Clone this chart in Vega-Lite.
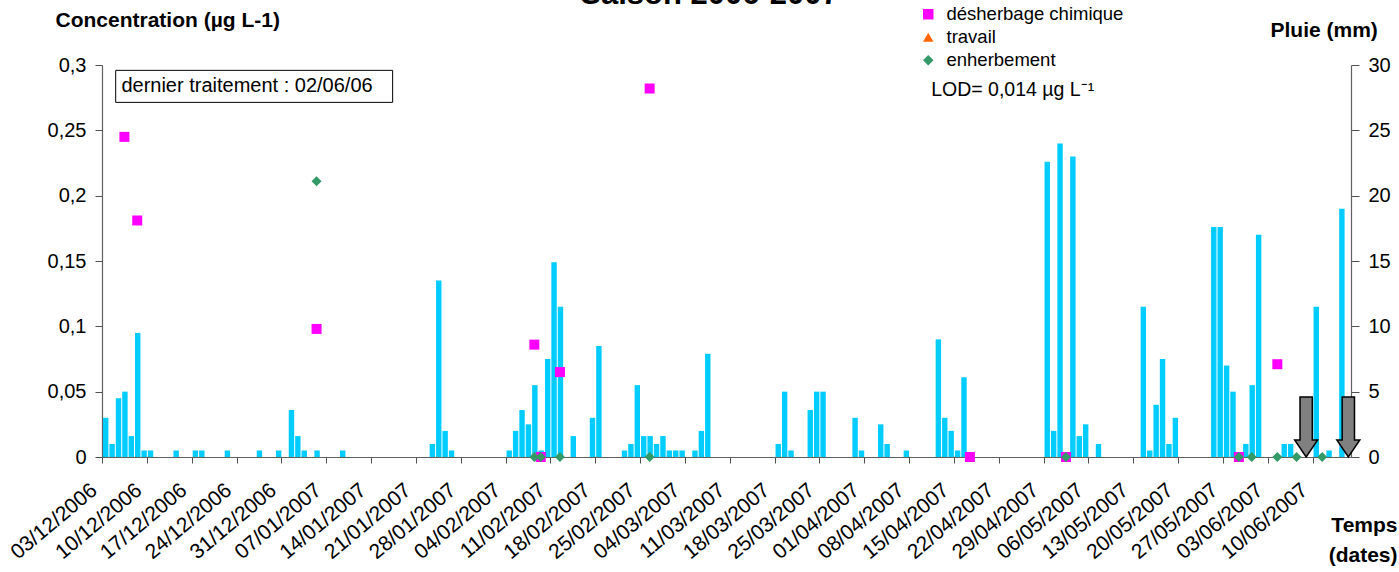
{
  "$schema": "https://vega.github.io/schema/vega-lite/v6.json",
  "width": 1249,
  "height": 392,
  "autosize": {"type": "none"},
  "padding": {"left": 102, "top": 65, "right": 48, "bottom": 115},
  "background": "white",
  "config": {
    "view": {"stroke": null},
    "font": "Liberation Sans",
    "axis": {"grid": false, "labelFont": "Liberation Sans", "titleFont": "Liberation Sans", "labelColor": "black", "titleColor": "black", "domainColor": "#606060", "tickColor": "#505050", "domainWidth": 1.2}
  },
  "title": {"text": "Saison 2006-2007", "font": "Liberation Sans", "fontSize": 31, "fontWeight": "bold", "color": "black", "anchor": "middle", "frame": "group", "baseline": "alphabetic", "offset": -30, "dx": -17},
  "datasets": {
    "pluie": [
      {"date": "2006-12-03", "pluie": 3.0}, {"date": "2006-12-04", "pluie": 1.0}, {"date": "2006-12-05", "pluie": 4.5},
      {"date": "2006-12-06", "pluie": 5.0}, {"date": "2006-12-07", "pluie": 1.6}, {"date": "2006-12-08", "pluie": 9.5},
      {"date": "2006-12-09", "pluie": 0.5}, {"date": "2006-12-10", "pluie": 0.5}, {"date": "2006-12-14", "pluie": 0.5},
      {"date": "2006-12-17", "pluie": 0.5}, {"date": "2006-12-18", "pluie": 0.5}, {"date": "2006-12-22", "pluie": 0.5},
      {"date": "2006-12-27", "pluie": 0.5}, {"date": "2006-12-30", "pluie": 0.5}, {"date": "2007-01-01", "pluie": 3.6},
      {"date": "2007-01-02", "pluie": 1.6}, {"date": "2007-01-03", "pluie": 0.5}, {"date": "2007-01-05", "pluie": 0.5},
      {"date": "2007-01-09", "pluie": 0.5}, {"date": "2007-01-23", "pluie": 1.0}, {"date": "2007-01-24", "pluie": 13.5},
      {"date": "2007-01-25", "pluie": 2.0}, {"date": "2007-01-26", "pluie": 0.5}, {"date": "2007-02-04", "pluie": 0.5},
      {"date": "2007-02-05", "pluie": 2.0}, {"date": "2007-02-06", "pluie": 3.6}, {"date": "2007-02-07", "pluie": 2.5},
      {"date": "2007-02-08", "pluie": 5.5}, {"date": "2007-02-09", "pluie": 0.5}, {"date": "2007-02-10", "pluie": 7.5},
      {"date": "2007-02-11", "pluie": 14.9}, {"date": "2007-02-12", "pluie": 11.5}, {"date": "2007-02-14", "pluie": 1.6},
      {"date": "2007-02-17", "pluie": 3.0}, {"date": "2007-02-18", "pluie": 8.5}, {"date": "2007-02-22", "pluie": 0.5},
      {"date": "2007-02-23", "pluie": 1.0}, {"date": "2007-02-24", "pluie": 5.5}, {"date": "2007-02-25", "pluie": 1.6},
      {"date": "2007-02-26", "pluie": 1.6}, {"date": "2007-02-27", "pluie": 1.0}, {"date": "2007-02-28", "pluie": 1.6},
      {"date": "2007-03-01", "pluie": 0.5}, {"date": "2007-03-02", "pluie": 0.5}, {"date": "2007-03-03", "pluie": 0.5},
      {"date": "2007-03-05", "pluie": 0.5}, {"date": "2007-03-06", "pluie": 2.0}, {"date": "2007-03-07", "pluie": 7.9},
      {"date": "2007-03-18", "pluie": 1.0}, {"date": "2007-03-19", "pluie": 5.0}, {"date": "2007-03-20", "pluie": 0.5},
      {"date": "2007-03-23", "pluie": 3.6}, {"date": "2007-03-24", "pluie": 5.0}, {"date": "2007-03-25", "pluie": 5.0},
      {"date": "2007-03-30", "pluie": 3.0}, {"date": "2007-03-31", "pluie": 0.5}, {"date": "2007-04-03", "pluie": 2.5},
      {"date": "2007-04-04", "pluie": 1.0}, {"date": "2007-04-07", "pluie": 0.5}, {"date": "2007-04-12", "pluie": 9.0},
      {"date": "2007-04-13", "pluie": 3.0}, {"date": "2007-04-14", "pluie": 2.0}, {"date": "2007-04-15", "pluie": 0.5},
      {"date": "2007-04-16", "pluie": 6.1}, {"date": "2007-04-29", "pluie": 22.6}, {"date": "2007-04-30", "pluie": 2.0},
      {"date": "2007-05-01", "pluie": 24.0}, {"date": "2007-05-03", "pluie": 23.0}, {"date": "2007-05-04", "pluie": 1.6},
      {"date": "2007-05-05", "pluie": 2.5}, {"date": "2007-05-07", "pluie": 1.0}, {"date": "2007-05-14", "pluie": 11.5},
      {"date": "2007-05-15", "pluie": 0.5}, {"date": "2007-05-16", "pluie": 4.0}, {"date": "2007-05-17", "pluie": 7.5},
      {"date": "2007-05-18", "pluie": 1.0}, {"date": "2007-05-19", "pluie": 3.0}, {"date": "2007-05-25", "pluie": 17.6},
      {"date": "2007-05-26", "pluie": 17.6}, {"date": "2007-05-27", "pluie": 7.0}, {"date": "2007-05-28", "pluie": 5.0},
      {"date": "2007-05-30", "pluie": 1.0}, {"date": "2007-05-31", "pluie": 5.5}, {"date": "2007-06-01", "pluie": 17.0},
      {"date": "2007-06-05", "pluie": 1.0}, {"date": "2007-06-06", "pluie": 1.0}, {"date": "2007-06-10", "pluie": 11.5},
      {"date": "2007-06-12", "pluie": 0.5}, {"date": "2007-06-14", "pluie": 19.0}
    ],
    "conc": [
      {"date": "2006-12-06", "conc": 0.245, "type": "désherbage chimique"},
      {"date": "2006-12-08", "conc": 0.181, "type": "désherbage chimique"},
      {"date": "2007-01-05", "conc": 0.098, "type": "désherbage chimique"},
      {"date": "2007-02-08", "conc": 0.086, "type": "désherbage chimique"},
      {"date": "2007-02-09", "conc": 0, "type": "désherbage chimique"},
      {"date": "2007-02-12", "conc": 0.065, "type": "désherbage chimique"},
      {"date": "2007-02-26", "conc": 0.282, "type": "désherbage chimique"},
      {"date": "2007-04-17", "conc": 0, "type": "désherbage chimique"},
      {"date": "2007-05-02", "conc": 0, "type": "désherbage chimique"},
      {"date": "2007-05-29", "conc": 0, "type": "désherbage chimique"},
      {"date": "2007-06-04", "conc": 0.071, "type": "désherbage chimique"},
      {"date": "2007-01-05", "conc": 0.211, "type": "enherbement"},
      {"date": "2007-02-08", "conc": 0, "type": "enherbement"},
      {"date": "2007-02-09", "conc": 0, "type": "enherbement"},
      {"date": "2007-02-12", "conc": 0, "type": "enherbement"},
      {"date": "2007-02-26", "conc": 0, "type": "enherbement"},
      {"date": "2007-05-02", "conc": 0, "type": "enherbement"},
      {"date": "2007-05-29", "conc": 0, "type": "enherbement"},
      {"date": "2007-05-31", "conc": 0, "type": "enherbement"},
      {"date": "2007-06-04", "conc": 0, "type": "enherbement"},
      {"date": "2007-06-07", "conc": 0, "type": "enherbement"},
      {"date": "2007-06-11", "conc": 0, "type": "enherbement"}
    ],
    "fleches": [
      {"date": "2007-06-09T00:00:00Z", "conc": 0},
      {"date": "2007-06-15T14:00:00Z", "conc": 0}
    ]
  },
  "layer": [
    {
      "data": {"name": "pluie"},
      "mark": {"type": "bar", "color": "#00CCFF", "timeUnitBandSize": 0.62},
      "encoding": {
        "x": {
          "field": "date", "type": "temporal", "timeUnit": "utcyearmonthdate",
          "scale": {"type": "utc", "nice": false, "domain": [{"year": 2006, "month": 12, "date": 3, "utc": true}, {"year": 2007, "month": 6, "date": 16, "utc": true}]},
          "axis": {
            "values": [
              {"year": 2006, "month": 12, "date": 3, "utc": true}, {"year": 2006, "month": 12, "date": 10, "utc": true},
              {"year": 2006, "month": 12, "date": 17, "utc": true}, {"year": 2006, "month": 12, "date": 24, "utc": true},
              {"year": 2006, "month": 12, "date": 31, "utc": true}, {"year": 2007, "month": 1, "date": 7, "utc": true},
              {"year": 2007, "month": 1, "date": 14, "utc": true}, {"year": 2007, "month": 1, "date": 21, "utc": true},
              {"year": 2007, "month": 1, "date": 28, "utc": true}, {"year": 2007, "month": 2, "date": 4, "utc": true},
              {"year": 2007, "month": 2, "date": 11, "utc": true}, {"year": 2007, "month": 2, "date": 18, "utc": true},
              {"year": 2007, "month": 2, "date": 25, "utc": true}, {"year": 2007, "month": 3, "date": 4, "utc": true},
              {"year": 2007, "month": 3, "date": 11, "utc": true}, {"year": 2007, "month": 3, "date": 18, "utc": true},
              {"year": 2007, "month": 3, "date": 25, "utc": true}, {"year": 2007, "month": 4, "date": 1, "utc": true},
              {"year": 2007, "month": 4, "date": 8, "utc": true}, {"year": 2007, "month": 4, "date": 15, "utc": true},
              {"year": 2007, "month": 4, "date": 22, "utc": true}, {"year": 2007, "month": 4, "date": 29, "utc": true},
              {"year": 2007, "month": 5, "date": 6, "utc": true}, {"year": 2007, "month": 5, "date": 13, "utc": true},
              {"year": 2007, "month": 5, "date": 20, "utc": true}, {"year": 2007, "month": 5, "date": 27, "utc": true},
              {"year": 2007, "month": 6, "date": 3, "utc": true}, {"year": 2007, "month": 6, "date": 10, "utc": true}
            ],
            "format": "%d/%m/%Y",
            "labelAngle": -40,
            "labelFontSize": 21,
            "labelOverlap": false,
            "labelBound": false,
            "labelFlush": false,
            "tickSize": 6,
            "labelPadding": 16,
            "labelOffset": -15,
            "title": ["Temps", "(dates)"],
            "titleFontSize": 21,
            "titleFontWeight": "bold",
            "titleAngle": 0,
            "titleAlign": "right",
            "titleBaseline": "middle",
            "titleLineHeight": 30,
            "titleX": 1295,
            "titleY": 68
          }
        },
        "y": {
          "field": "pluie", "type": "quantitative",
          "scale": {"domain": [0, 30], "nice": false},
          "axis": {
            "orient": "right",
            "values": [0, 5, 10, 15, 20, 25, 30],
            "labelFontSize": 20,
            "tickSize": 8,
            "labelPadding": 9,
            "title": "Pluie (mm)",
            "titleFontSize": 21,
            "titleFontWeight": "bold",
            "titleAngle": 0,
            "titleAlign": "left",
            "titleBaseline": "middle",
            "titleX": -81,
            "titleY": -35
          }
        }
      }
    },
    {
      "layer": [
        {
          "data": {"name": "conc"},
          "mark": {"type": "point", "filled": true, "opacity": 1, "size": 100, "clip": false},
          "encoding": {
            "x": {"field": "date", "type": "temporal", "timeUnit": "utcyearmonthdate", "bandPosition": 0.5},
            "y": {
              "field": "conc", "type": "quantitative",
              "scale": {"domain": [0, 0.3], "nice": false},
              "axis": {
                "orient": "left",
                "values": [0, 0.05, 0.1, 0.15, 0.2, 0.25, 0.3],
                "labelExpr": "replace(format(datum.value, '.2~f'), '.', ',')",
                "labelFontSize": 20,
                "tickSize": 7,
                "labelPadding": 9,
                "title": "Concentration (µg L-1)",
                "titleFontSize": 21,
                "titleFontWeight": "bold",
                "titleAngle": 0,
                "titleAlign": "left",
                "titleBaseline": "middle",
                "titleX": -47,
                "titleY": -45
              }
            },
            "color": {
              "field": "type", "type": "nominal",
              "scale": {"domain": ["désherbage chimique", "travail", "enherbement"], "range": ["#FF00FF", "#FF6600", "#339966"]},
              "legend": {"orient": "none", "legendX": 817, "legendY": -60, "title": null, "padding": 0, "labelFont": "Liberation Sans", "labelFontSize": 18.5, "labelColor": "black", "labelLimit": 400, "symbolSize": 110, "symbolStrokeWidth": 0, "rowPadding": 4, "labelOffset": 9}
            },
            "shape": {
              "field": "type", "type": "nominal",
              "scale": {"domain": ["désherbage chimique", "travail", "enherbement"], "range": ["square", "triangle-up", "diamond"]},
              "legend": {"orient": "none", "legendX": 817, "legendY": -60, "title": null, "padding": 0, "labelFont": "Liberation Sans", "labelFontSize": 18.5, "labelColor": "black", "labelLimit": 400, "symbolSize": 110, "symbolStrokeWidth": 0, "rowPadding": 4, "labelOffset": 9}
            }
          }
        },
        {
          "data": {"values": [{}]},
          "mark": {"type": "rect", "fill": "white", "stroke": "black", "strokeWidth": 1},
          "encoding": {
            "x": {"datum": {"year": 2006, "month": 12, "date": 5, "hours": 3, "minutes": 20, "utc": true}, "type": "temporal"},
            "x2": {"datum": {"year": 2007, "month": 1, "date": 17, "hours": 9, "utc": true}},
            "y": {"datum": 0.2959, "type": "quantitative"},
            "y2": {"datum": 0.2714}
          }
        },
        {
          "data": {"values": [{}]},
          "mark": {"type": "text", "text": "dernier traitement : 02/06/06", "font": "Liberation Sans", "fontSize": 20, "align": "left", "baseline": "alphabetic", "color": "black"},
          "encoding": {
            "x": {"datum": {"year": 2006, "month": 12, "date": 6, "hours": 0, "minutes": 40, "utc": true}, "type": "temporal"},
            "y": {"datum": 0.2795, "type": "quantitative"}
          }
        },
        {
          "data": {"values": [{}]},
          "mark": {"type": "text", "text": "LOD= 0,014 µg L⁻¹", "font": "Liberation Sans", "fontSize": 19.5, "align": "left", "baseline": "alphabetic", "color": "black"},
          "encoding": {
            "x": {"datum": {"year": 2007, "month": 4, "date": 11, "hours": 11, "utc": true}, "type": "temporal"},
            "y": {"datum": 0.2759, "type": "quantitative"}
          }
        },
        {
          "data": {"name": "fleches"},
          "mark": {"type": "point", "shape": "M-0.205,-1L0.205,-1L0.205,0.433L0.383,0.433L0,1L-0.383,0.433L-0.205,0.433Z", "size": 3600, "filled": true, "fill": "#808080", "stroke": "black", "strokeWidth": 1.5, "opacity": 1, "yOffset": -30, "clip": false},
          "encoding": {
            "x": {"field": "date", "type": "temporal"},
            "y": {"field": "conc", "type": "quantitative"}
          }
        }
      ]
    }
  ],
  "resolve": {"scale": {"y": "independent"}, "axis": {"y": "independent"}}
}
